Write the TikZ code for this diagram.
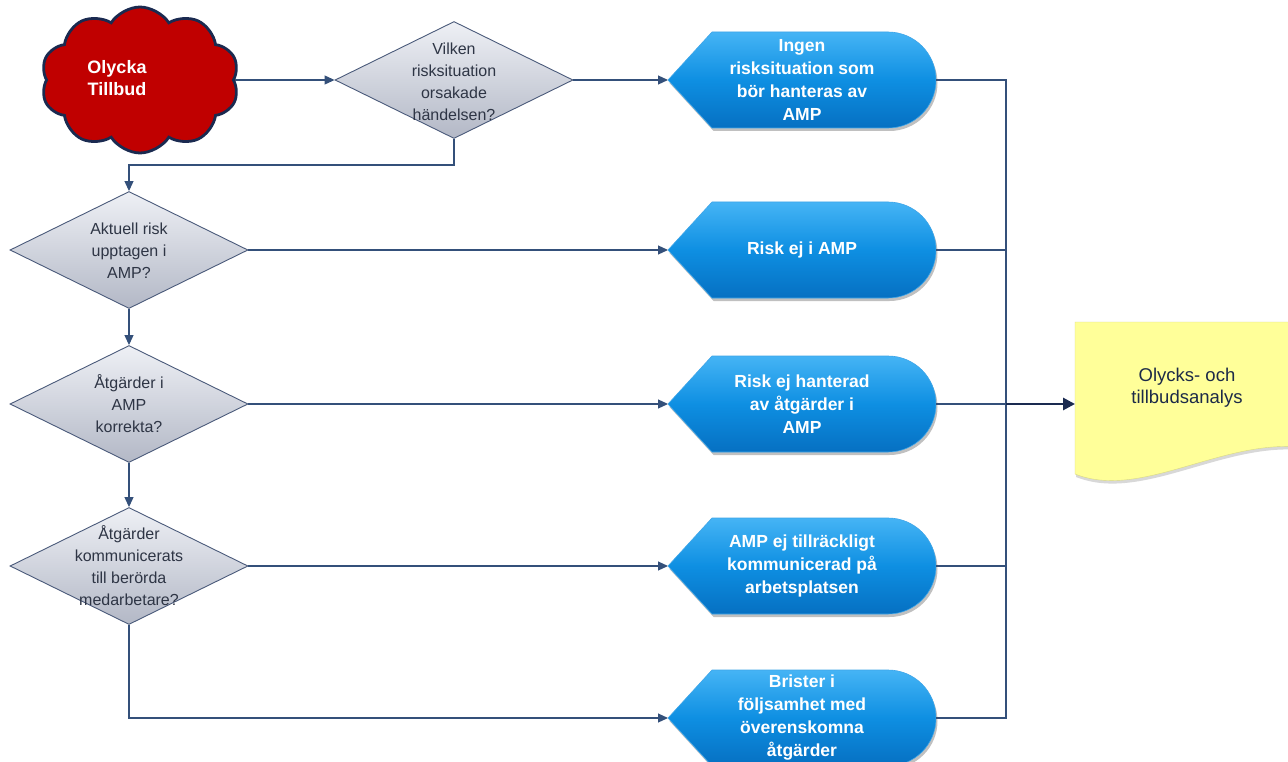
\documentclass[tikz,border=0pt]{standalone}
\usepackage{fontspec}
\setmainfont{Liberation Sans}
\usetikzlibrary{shapes.geometric,shapes.symbols,arrows.meta,shadows}
\definecolor{navy}{HTML}{1A2A50}
\definecolor{linec}{HTML}{34507A}
\definecolor{cloudred}{HTML}{C00000}
\definecolor{dtop}{HTML}{EEF0F5}
\definecolor{dbot}{HTML}{B3B8C6}
\definecolor{dborder}{HTML}{4A5A7A}
\definecolor{dtext}{HTML}{2E3545}
\definecolor{ttop}{HTML}{45B4F5}
\definecolor{tmid}{HTML}{0E8FE2}
\definecolor{tbot}{HTML}{0670C2}
\definecolor{docyel}{HTML}{FFFF99}
\definecolor{doctext}{HTML}{1C2A48}
\tikzset{
  arr/.style={draw=linec, line width=1.1pt, -{Triangle[length=10pt,width=9pt]}, color=linec},
  ln/.style={draw=linec, line width=1.1pt},
  dec/.style={diamond, draw=dborder, line width=0.9pt, top color=dtop, bottom color=dbot,
    minimum width=238pt, minimum height=117pt, inner sep=0pt, aspect=2},
  dtxt/.style={align=center, text=dtext, font=\fontsize{16}{22}\selectfont, inner sep=0pt},
  termfill/.style={top color=ttop, bottom color=tbot, middle color=tmid, draw=tmid!80!white, line width=0.6pt,
    drop shadow={shadow xshift=1.5pt, shadow yshift=-3pt, opacity=0.35, fill=black!70}},
  termtext/.style={align=center, text=white, font=\bfseries\fontsize{17.5}{23}\selectfont, inner sep=0pt}
}
\newcommand{\termbox}[3]{%
  \path[termfill] (668,#2) -- (712,#2+48) -- (888,#2+48) arc[start angle=90,end angle=-90,radius=48] -- (712,#2-48) -- cycle;
  \coordinate (#1w) at (668,#2);
  \coordinate (#1e) at (936,#2);
  \node[termtext] (#1) at (802,#2) {#3};}
\begin{document}
\begin{tikzpicture}[x=1pt,y=1pt]
\useasboundingbox (0,0) rectangle (1288,-762);
\fill[white] (0,0) rectangle (1288,-762);
% cloud
\node[cloud, cloud puffs=10, cloud puff arc=115, aspect=1.35, draw=navy, line width=2.8pt, fill=cloudred,
  minimum width=198pt, minimum height=146pt] (cloud) at (140,-80) {};
\node[align=center, text=white, font=\bfseries\fontsize{18}{22}\selectfont] (cloudtxt) at (117,-78) {Olycka\\Tillbud};
% diamonds
\node[dec] (d1) at (454,-80) {};
\node[dtxt] (d1t) at (454,-82) {Vilken\\risksituation\\orsakade\\händelsen?};
\node[dec] (d2) at (129,-250) {};
\node[dtxt] (d2t) at (129,-251) {Aktuell risk\\upptagen i\\AMP?};
\node[dec] (d3) at (129,-404) {};
\node[dtxt] (d3t) at (129,-404) {Åtgärder i\\AMP\\korrekta?};
\node[dec] (d4) at (129,-566) {};
\node[dtxt] (d4t) at (129,-566) {Åtgärder\\kommunicerats\\till berörda\\medarbetare?};
% terminals
\termbox{t1}{-80}{Ingen\\risksituation som\\bör hanteras av\\AMP}
\termbox{t2}{-250}{Risk ej i AMP}
\termbox{t3}{-404}{Risk ej hanterad\\av åtgärder i\\AMP}
\termbox{t4}{-566}{AMP ej tillräckligt\\kommunicerad på\\arbetsplatsen}
\termbox{t5}{-718}{Brister i\\följsamhet med\\överenskomna\\åtgärder}
% document
\path[fill=docyel, draw=docyel!85!black, line width=0.4pt,
  drop shadow={shadow xshift=1pt, shadow yshift=-3pt, opacity=0.25, fill=black!60}]
  (1075,-322) -- (1300,-322) -- (1300,-447) .. controls (1220,-440) and (1140,-500) .. (1075,-474) -- cycle;
\coordinate (docw) at (1075,-404);
\node[align=center, text=doctext, font=\fontsize{18.5}{22}\selectfont] (doc) at (1187,-388) {Olycks- och\\tillbudsanalys};
% connectors
\draw[arr] (cloud.center -| cloud.east) -- (d1.west);
\draw[arr] (d1.east) -- (t1w);
\coordinate (j1) at (454,-165);
\draw[arr] (d1.south) -- (j1) -| (d2.north);
\draw[arr] (d2.east) -- (t2w);
\draw[arr] (d3.east) -- (t3w);
\draw[arr] (d4.east) -- (t4w);
\draw[arr] (d2.south) -- (d3.north);
\draw[arr] (d3.south) -- (d4.north);
\coordinate (j5) at (129,-718);
\draw[arr] (d4.south) -- (j5) -- (t5w);
\coordinate (bt) at (1006,-80);
\coordinate (bb) at (1006,-718);
\coordinate (bm) at (1006,-404);
\draw[ln] (t1e) -- (bt) -- (bb) -- (t5e);
\draw[ln] (t2e) -- (t2e -| bm);
\draw[ln] (t3e) -- (bm);
\draw[ln] (t4e) -- (t4e -| bm);
\draw[draw=navy, line width=2.8pt, -{Triangle[length=12pt,width=12pt]}, color=navy] (bm) -- (docw);
\end{tikzpicture}
\end{document}
